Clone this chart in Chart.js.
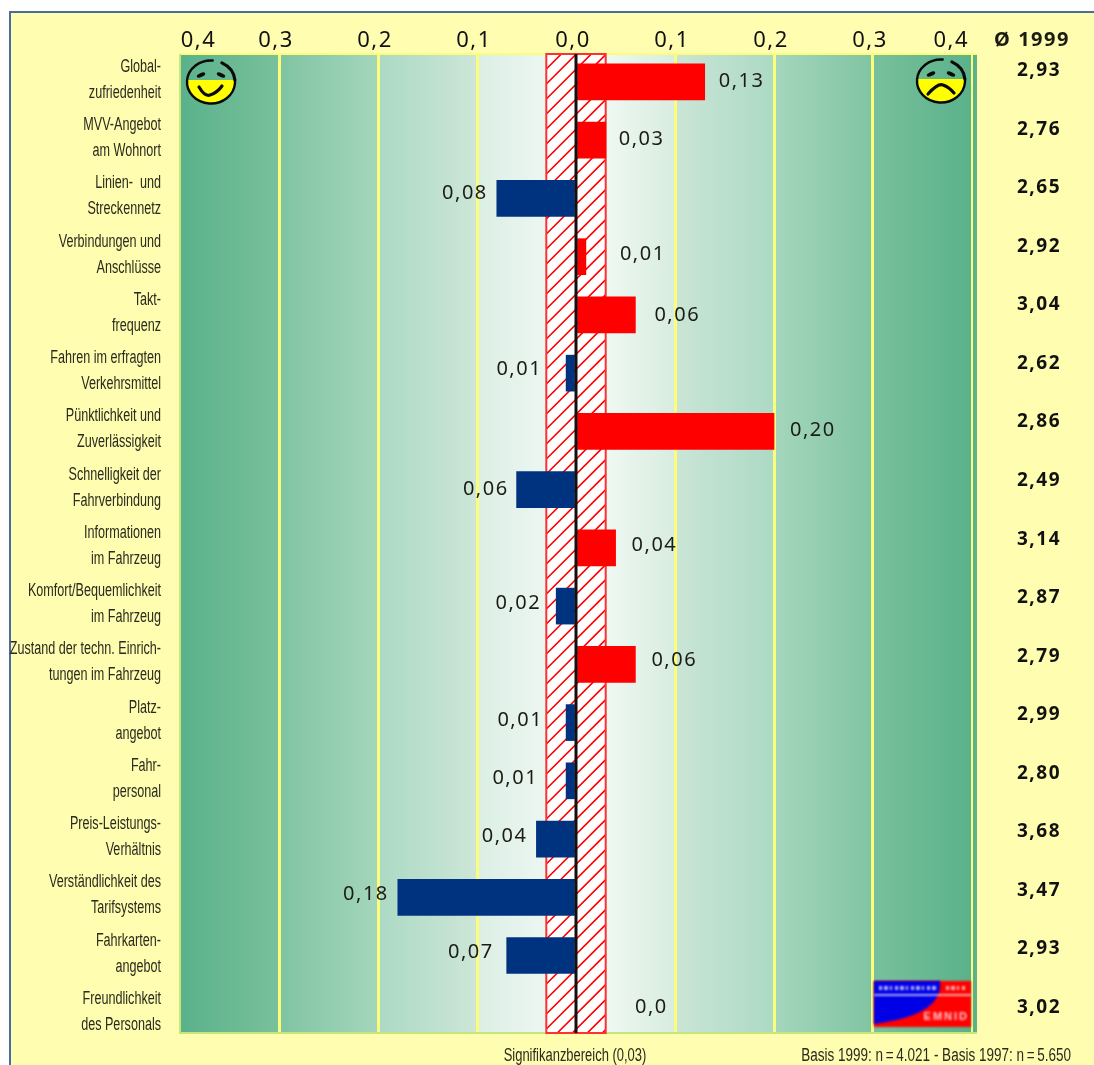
<!DOCTYPE html>
<html>
<head>
<meta charset="utf-8">
<title>Zufriedenheit 1999 / 1997</title>
<script src="https://cdn.jsdelivr.net/npm/chart.js@4/dist/chart.umd.min.js"></script>
<style>
    html, body { margin: 0; padding: 0; background: #fff; overflow: hidden; }
    canvas { display: block; }
</style>
</head>
<body>
<canvas id="chart" width="1094" height="1065"></canvas>
<script>
// data
const categories = [
    ["Global-", "zufriedenheit"],
    ["MVV-Angebot", "am Wohnort"],
    ["Linien-  und", "Streckennetz"],
    ["Verbindungen und", "Anschlüsse"],
    ["Takt-", "frequenz"],
    ["Fahren im erfragten", "Verkehrsmittel"],
    ["Pünktlichkeit und", "Zuverlässigkeit"],
    ["Schnelligkeit der", "Fahrverbindung"],
    ["Informationen", "im Fahrzeug"],
    ["Komfort/Bequemlichkeit", "im Fahrzeug"],
    ["Zustand der techn. Einrich-", "tungen im Fahrzeug"],
    ["Platz-", "angebot"],
    ["Fahr-", "personal"],
    ["Preis-Leistungs-", "Verhältnis"],
    ["Verständlichkeit des", "Tarifsystems"],
    ["Fahrkarten-", "angebot"],
    ["Freundlichkeit", "des Personals"]
]
const values = [0.13, 0.03, -0.08, 0.01, 0.06, -0.01, 0.20, -0.06, 0.04, -0.02, 0.06, -0.01, -0.01, -0.04, -0.18, -0.07, 0]
const valueLabels = ["0,13", "0,03", "0,08", "0,01", "0,06", "0,01", "0,20", "0,06", "0,04", "0,02", "0,06", "0,01", "0,01", "0,04", "0,18", "0,07", "0,0"]
const averages = ["2,93", "2,76", "2,65", "2,92", "3,04", "2,62", "2,86", "2,49", "3,14", "2,87", "2,79", "2,99", "2,80", "3,68", "3,47", "2,93", "3,02"]
const SIGNIFICANCE = 0.03

// label placement relative to the end of each bar, in px
const labelGapX = [14, 13, 9, 34, 19, 24, 16, 8, 16, 15, 16, 23, 28, 9, 9, 13, 59]
const labelGapY = [-1, -1, -5, -2, 0, -4, -1, 0, -3, -3, -4, -2, -3, -3, -3, -3, -6]

const YELLOW = "#fffdb0"
const GRID_YELLOW = "#fdfd7c"
const RED = "#ff0000"
const NAVY = "#00337f"
const SANS = "'Liberation Sans'"
const WIDE = "'Noto Sans'"

const PLOT_LEFT = 180
const PLOT_RIGHT = 972
const PLOT_EDGE = 977
const PLOT_TOP = 54
const PLOT_BOTTOM = 1033

function drawText(ctx, text, x, y, font, align, spacing) {
    ctx.save()
    ctx.font = font
    ctx.fillStyle = "#1c1c14"
    ctx.textAlign = align
    ctx.textBaseline = "middle"
    ctx.letterSpacing = spacing || "0px"
    ctx.fillText(text, x, y)
    ctx.restore()
}

// no condensed face is around, so squeeze a regular one
function drawNarrowText(ctx, text, x, y, squeeze, align) {
    ctx.save()
    ctx.translate(x, y)
    ctx.scale(squeeze, 1)
    ctx.font = "18px " + SANS
    ctx.letterSpacing = "0px"
    ctx.fillStyle = "#2a2a1e"
    ctx.textAlign = align
    ctx.textBaseline = "middle"
    ctx.fillText(text, 0, 0)
    ctx.restore()
}

// yellow page, blue frame and the green fade behind the plot
const backdrop = {
    id: "backdrop",
    beforeDraw(chart) {
        const ctx = chart.ctx
        ctx.save()
        ctx.fillStyle = "#fff"
        ctx.fillRect(0, 0, chart.width, chart.height)
        ctx.fillStyle = YELLOW
        ctx.fillRect(10, 12, chart.width - 10, chart.height - 12)
        ctx.fillStyle = "#4a6d9e"
        ctx.fillRect(10, 11, chart.width - 10, 2)
        ctx.fillRect(9, 11, 2, chart.height - 11)

        const grad = ctx.createLinearGradient(PLOT_LEFT, 0, PLOT_RIGHT, 0)
        const stops = [
            [0, "#5ab28a"], [0.123, "#78c09c"], [0.127, "#80c4a2"], [0.25, "#a4d6bc"],
            [0.253, "#acdac4"], [0.375, "#cde6d8"], [0.378, "#dcefe5"], [0.46, "#ecf6f1"],
            [0.5, "#f0f9f4"], [0.54, "#eef8f2"], [0.625, "#d8ecdf"], [0.628, "#cae5d6"],
            [0.75, "#acdac4"], [0.753, "#a4d6bc"], [0.873, "#80c4a2"], [0.877, "#78c09c"],
            [1, "#5ab28a"]
        ]
        for (const s of stops) {
            grad.addColorStop(s[0], s[1])
        }
        ctx.fillStyle = grad
        ctx.fillRect(PLOT_LEFT, PLOT_TOP, PLOT_EDGE - PLOT_LEFT, PLOT_BOTTOM - PLOT_TOP)
        ctx.restore()

        // tick labels have no spacing option, the context carries it
        ctx.letterSpacing = "1.5px"
    },

    // hatched significance band and plot edges, under the bars
    beforeDatasetsDraw(chart) {
        const ctx = chart.ctx
        const xs = chart.scales.x
        const left = xs.getPixelForValue(-SIGNIFICANCE)
        const right = xs.getPixelForValue(SIGNIFICANCE)
        ctx.save()
        ctx.fillStyle = GRID_YELLOW
        ctx.fillRect(PLOT_LEFT, PLOT_TOP - 1, PLOT_EDGE - PLOT_LEFT, 2)
        ctx.fillStyle = "#c6e67c"
        ctx.fillRect(PLOT_LEFT - 1, PLOT_BOTTOM - 1, PLOT_EDGE - PLOT_LEFT + 1, 2)
        ctx.fillRect(PLOT_LEFT - 1, PLOT_TOP, 2, PLOT_BOTTOM - PLOT_TOP)

        ctx.beginPath()
        ctx.rect(left, PLOT_TOP, right - left, PLOT_BOTTOM - PLOT_TOP)
        ctx.fillStyle = "#fff"
        ctx.fill()
        ctx.save()
        ctx.clip()
        ctx.strokeStyle = RED
        ctx.lineWidth = 1.6
        ctx.beginPath()
        const span = right - left
        for (let y = PLOT_TOP; y < PLOT_BOTTOM + span; y += 15) {
            ctx.moveTo(left, y)
            ctx.lineTo(right, y - span)
        }
        ctx.stroke()
        ctx.restore()
        ctx.strokeStyle = "#ff3030"
        ctx.lineWidth = 2
        ctx.strokeRect(left, PLOT_TOP, right - left, PLOT_BOTTOM - PLOT_TOP)
        ctx.restore()
    },

    // zero line, labels and the bits of text around the plot
    afterDatasetsDraw(chart) {
        const ctx = chart.ctx
        const xs = chart.scales.x
        const ys = chart.scales.y
        const zero = xs.getPixelForValue(0)
        ctx.save()
        ctx.fillStyle = "#111"
        ctx.fillRect(zero - 1.5, PLOT_TOP, 3, PLOT_BOTTOM - PLOT_TOP)
        ctx.restore()

        for (let i = 0; i < values.length; i++) {
            const end = xs.getPixelForValue(values[i])
            const y = ys.getPixelForValue(i)
            const labelY = y + labelGapY[i]
            if (values[i] < 0) {
                drawText(ctx, valueLabels[i], end - labelGapX[i], labelY, "20px " + WIDE, "right", "1.5px")
            } else {
                drawText(ctx, valueLabels[i], end + labelGapX[i], labelY, "20px " + WIDE, "left", "1.5px")
            }
            drawNarrowText(ctx, categories[i][0], PLOT_LEFT - 19, y - 15, 0.7, "right")
            drawNarrowText(ctx, categories[i][1], PLOT_LEFT - 19, y + 11, 0.7, "right")
        }

        drawText(ctx, "Ø 1999", 1032, 40, "bold 20px " + WIDE, "center", "1.5px")
        drawNarrowText(ctx, "Signifikanzbereich (0,03)", 575, 1056, 0.72, "center")
        drawNarrowText(ctx, "Basis 1999: n\u2009=\u20094.021 - Basis 1997: n\u2009=\u20095.650", 1071, 1056, 0.75, "right")

        drawFace(ctx, 211, 82, true)
        drawFace(ctx, 941, 81, false)
        drawLogo(ctx, 874, 981, 97, 46)
    }
}

// hand drawn looking face, only the lower part is filled
function drawFace(ctx, cx, cy, happy) {
    ctx.save()
    ctx.beginPath()
    ctx.ellipse(cx, cy, 24, 21.5, 0, 0, Math.PI * 2)
    ctx.save()
    ctx.clip()
    ctx.fillStyle = "#ffff00"
    ctx.fillRect(cx - 25, cy - 2, 50, 26)
    ctx.restore()

    ctx.strokeStyle = "#0a0a0a"
    ctx.lineCap = "round"
    ctx.lineWidth = 2.4
    ctx.beginPath()
    ctx.ellipse(cx, cy, 24, 21.5, 0, -1.5, -0.1, true)
    ctx.stroke()
    ctx.lineWidth = 3.2
    ctx.beginPath()
    ctx.ellipse(cx, cy, 24, 21.5, 0, -1.1, -0.1)
    ctx.stroke()

    ctx.fillStyle = "#0a0a0a"
    ctx.beginPath()
    ctx.ellipse(cx - 10, cy - 7, 4.5, 2, -0.4, 0, Math.PI * 2)
    ctx.ellipse(cx + 10, cy - 7, 4.5, 2, 0.4, 0, Math.PI * 2)
    ctx.fill()

    ctx.lineWidth = 3.2
    ctx.beginPath()
    if (happy) {
        ctx.moveTo(cx - 12, cy + 5)
        ctx.quadraticCurveTo(cx - 6, cy + 15, cx - 1, cy + 13)
        ctx.quadraticCurveTo(cx + 6, cy + 11, cx + 11, cy + 4)
    } else {
        ctx.moveTo(cx - 13, cy + 13)
        ctx.quadraticCurveTo(cx - 3, cy + 2, cx + 2, cy + 4)
        ctx.quadraticCurveTo(cx + 8, cy + 6, cx + 13, cy + 12)
    }
    ctx.stroke()
    ctx.restore()
}

// institute logo in the lower right corner of the plot
function drawLogo(ctx, x, y, w, h) {
    ctx.save()
    ctx.filter = "blur(0.8px)"
    ctx.fillStyle = RED
    ctx.fillRect(x, y, w, h)
    ctx.fillStyle = "#0000e6"
    ctx.beginPath()
    ctx.moveTo(x, y)
    ctx.lineTo(x + 66, y)
    ctx.quadraticCurveTo(x + 70, y + 34, x, y + 43)
    ctx.closePath()
    ctx.fill()
    ctx.fillStyle = "rgba(255,255,255,0.65)"
    ctx.fillRect(x, y + 13, w, 2)
    ctx.strokeStyle = "rgba(255,255,255,0.7)"
    ctx.lineWidth = 4
    ctx.setLineDash([3, 2, 4, 2, 2, 3])
    ctx.beginPath()
    ctx.moveTo(x + 5, y + 7)
    ctx.lineTo(x + 63, y + 7)
    ctx.moveTo(x + 72, y + 7)
    ctx.lineTo(x + 93, y + 7)
    ctx.stroke()
    ctx.setLineDash([])
    ctx.fillStyle = "rgba(255,255,255,0.8)"
    ctx.font = "bold 11px " + SANS
    ctx.textAlign = "right"
    ctx.textBaseline = "middle"
    ctx.letterSpacing = "2px"
    ctx.fillText("EMNID", x + w - 2, y + 36)
    ctx.restore()
}

new Chart(document.getElementById("chart"), {
    type: "bar",
    data: {
        datasets: [{
            data: values.map((v, i) => ({ x: v, y: i })),
            backgroundColor: values.map(v => v < 0 ? NAVY : RED),
            barThickness: 36,
            borderWidth: 0
        }]
    },
    plugins: [backdrop],
    options: {
        indexAxis: "y",
        responsive: false,
        animation: false,
        layout: { autoPadding: false, padding: { top: 28, bottom: 1065 - PLOT_BOTTOM } },
        plugins: {
            legend: { display: false },
            tooltip: { enabled: false }
        },
        scales: {
            x: {
                type: "linear",
                position: "top",
                min: -0.4,
                max: 0.4,
                border: { display: false },
                grid: {
                    drawTicks: false,
                    color: c => Math.abs(c.tick.value) < 0.001 ? "transparent" : GRID_YELLOW,
                    lineWidth: c => Math.abs(c.tick.value) > 0.399 ? 2 : 3
                },
                ticks: {
                    stepSize: 0.1,
                    autoSkip: false,
                    maxRotation: 0,
                    align: "inner",
                    labelOffset: -3,
                    padding: 0,
                    color: "#111",
                    font: { family: WIDE, size: 22, lineHeight: 26 / 22 },
                    callback: v => (v < -0.39 ? "\u200a" : "") + Math.abs(v).toFixed(1).replace(".", ",")
                }
            },
            y: {
                type: "linear",
                position: "left",
                reverse: true,
                offset: false,
                min: -0.48,
                max: 16.33,
                afterFit: s => { s.width = PLOT_LEFT },
                border: { display: false },
                grid: { display: false, drawTicks: false },
                ticks: { display: false, stepSize: 1 }
            },
            y2: {
                type: "linear",
                axis: "y",
                position: "right",
                reverse: true,
                offset: false,
                min: -0.29,
                max: 16.44,
                // tick padding would otherwise eat into the plot height
                afterFit: s => {
                    s.width = 1094 - PLOT_RIGHT
                    s.paddingTop = 0
                    s.paddingBottom = 0
                },
                border: { display: false },
                grid: { display: false, drawTicks: false },
                ticks: {
                    stepSize: 1,
                    includeBounds: false,
                    autoSkip: false,
                    crossAlign: "near",
                    padding: 45,
                    color: "#111",
                    font: { family: WIDE, size: 19, weight: "bold" },
                    callback: v => averages[v]
                }
            }
        }
    }
})
</script>
</body>
</html>
